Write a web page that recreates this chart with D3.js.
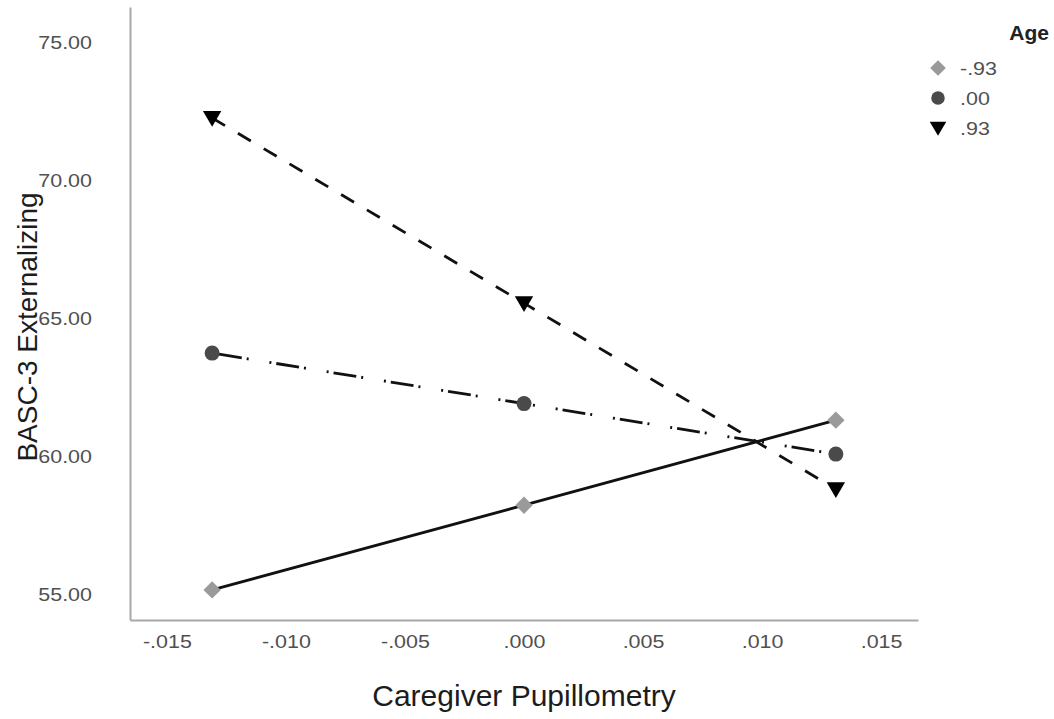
<!DOCTYPE html>
<html>
<head>
<meta charset="utf-8">
<script src="https://cdn.jsdelivr.net/npm/d3@7"></script>
<style>
  html, body { margin: 0; padding: 0; background: #fff; }
  svg { display: block; }
  text { font-family: "Liberation Sans", Arial, sans-serif; }
</style>
</head>
<body>
<svg id="chart" width="1054" height="719"></svg>
<script>
// Simple-slopes plot: BASC-3 Externalizing by caregiver pupillometry at three age levels
const pupillometry = [-0.0131, 0.0000, 0.0131];
const ageLevels = ["-.93", ".00", ".93"];
const externAgeLow = [55.15, 58.22, 61.30];
const externAgeMid = [63.73, 61.90, 60.07];
const externAgeHigh = [72.25, 65.54, 58.80];
const xTickValues = [-0.015, -0.010, -0.005, 0.000, 0.005, 0.010, 0.015];
const xTickLabels = ["-.015", "-.010", "-.005", ".000", ".005", ".010", ".015"];
const yTickValues = [55, 60, 65, 70, 75];
const yTickLabels = ["55.00", "60.00", "65.00", "70.00", "75.00"];

const series = [
  { label: ageLevels[0], values: externAgeLow,  shape: "diamond",  fill: "#9a9a9a", dash: null },
  { label: ageLevels[1], values: externAgeMid,  shape: "circle",   fill: "#4a4a4a", dash: "2,5,23,5,2,21" },
  { label: ageLevels[2], values: externAgeHigh, shape: "triangle", fill: "#000000", dash: "15,15" }
];

const svg = d3.select("#chart");

const x = d3.scaleLinear().domain([-0.01655, 0.01655]).range([130, 918]);
const y = d3.scaleLinear().domain([54.06, 76.27]).range([620, 7]);

// marker path generators
const symbolPath = {
  diamond: s => `M0,${-s}L${s},0L0,${s}L${-s},0Z`,
  circle: s => d3.symbol().type(d3.symbolCircle).size(Math.PI * s * s)(),
  triangle: s => `M${-s},${-s * 0.75}L${s},${-s * 0.75}L0,${s * 0.95}Z`
};
const markerSize = { diamond: 8.7, circle: 7.5, triangle: 9.2 };

// axes (no tick marks, only labels)
const xAxis = d3.axisBottom(x)
  .tickValues(xTickValues)
  .tickFormat((d, i) => xTickLabels[i])
  .tickSize(0)
  .tickPadding(0);
const yAxis = d3.axisLeft(y)
  .tickValues(yTickValues)
  .tickFormat((d, i) => yTickLabels[i])
  .tickSize(0)
  .tickPadding(0);

const gx = svg.append("g").attr("transform", "translate(0,620)").call(xAxis);
const gy = svg.append("g").attr("transform", "translate(130,0)").call(yAxis);

[gx, gy].forEach(g => {
  g.select(".domain").attr("stroke", "#a8a8a8").attr("stroke-width", 2);
  g.selectAll(".tick text")
    .attr("fill", "#505050")
    .attr("font-size", 19)
    .attr("font-family", "Liberation Sans, Arial, sans-serif");
});
gx.selectAll(".tick text")
  .attr("y", 0)
  .attr("dy", 0)
  .attr("transform", "translate(0,28) scale(1.13,1)")
  .attr("text-anchor", "middle");
gy.selectAll(".tick text")
  .attr("x", 0)
  .attr("dy", "0.35em")
  .attr("transform", "translate(-38,0) scale(1.13,1)")
  .attr("text-anchor", "end");

// axis titles
svg.append("text")
  .attr("x", 524).attr("y", 706)
  .attr("text-anchor", "middle")
  .attr("font-size", 30)
  .attr("fill", "#1c1c1c")
  .text("Caregiver Pupillometry");

svg.append("text")
  .attr("transform", "translate(37,327) rotate(-90)")
  .attr("text-anchor", "middle")
  .attr("font-size", 28)
  .attr("fill", "#1c1c1c")
  .text("BASC-3 Externalizing");

// lines
const line = d3.line()
  .x((d, i) => x(pupillometry[i]))
  .y(d => y(d));

const plot = svg.append("g");
series.forEach(s => {
  plot.append("path")
    .datum(s.values)
    .attr("d", line)
    .attr("fill", "none")
    .attr("stroke", "#111")
    .attr("stroke-width", 2.8)
    .attr("stroke-dasharray", s.dash);
});

// markers
series.forEach(s => {
  plot.selectAll(null)
    .data(s.values)
    .join("path")
    .attr("transform", (d, i) => `translate(${x(pupillometry[i])},${y(d)})`)
    .attr("d", symbolPath[s.shape](markerSize[s.shape]))
    .attr("fill", s.fill);
});

// legend
const legend = svg.append("g");
legend.append("text")
  .attr("x", 1049).attr("y", 40)
  .attr("text-anchor", "end")
  .attr("font-size", 21)
  .attr("font-weight", "bold")
  .attr("fill", "#222")
  .text("Age");

const legendY = [68, 98, 128];
series.forEach((s, i) => {
  legend.append("path")
    .attr("transform", `translate(938,${legendY[i]})`)
    .attr("d", symbolPath[s.shape](markerSize[s.shape] * 0.9))
    .attr("fill", s.fill);
  legend.append("text")
    .attr("transform", `translate(960,${legendY[i]}) scale(1.13,1)`)
    .attr("dy", "0.35em")
    .attr("font-size", 19)
    .attr("fill", "#505050")
    .text(s.label);
});
</script>
</body>
</html>
